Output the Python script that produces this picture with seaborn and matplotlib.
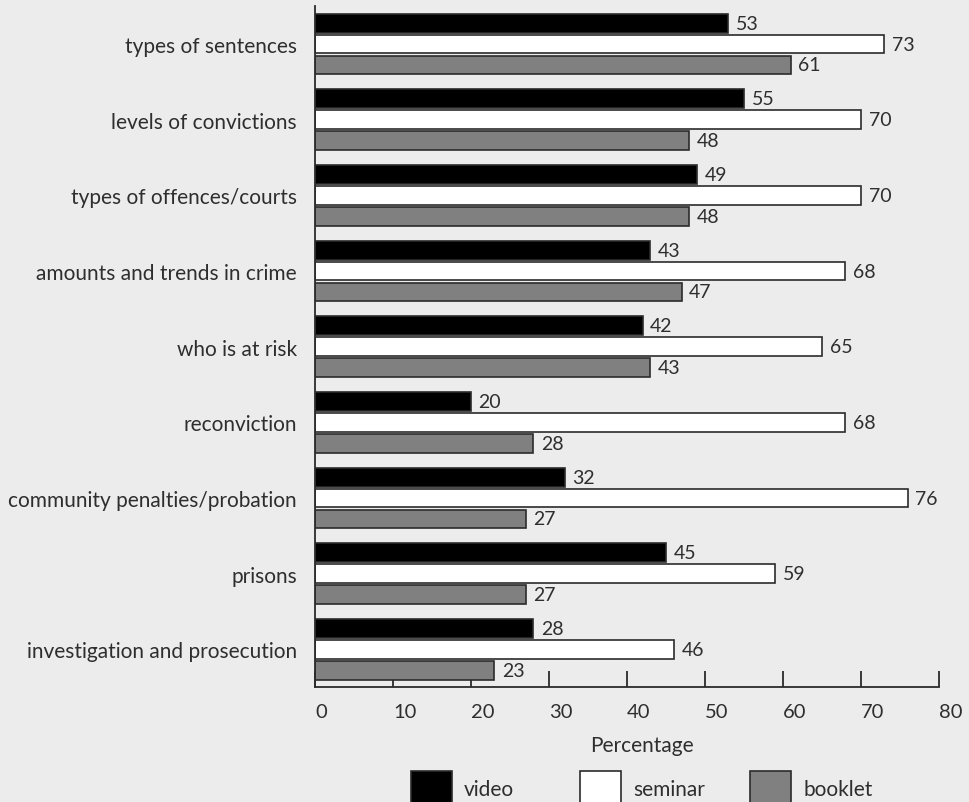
import matplotlib
matplotlib.use("Agg")
import matplotlib.pyplot as plt
import seaborn as sns
import pandas as pd

categories = [
    "types of sentences",
    "levels of convictions",
    "types of offences/courts",
    "amounts and trends in crime",
    "who is at risk",
    "reconviction",
    "community penalties/probation",
    "prisons",
    "investigation and prosecution",
]
video = [53, 55, 49, 43, 42, 20, 32, 45, 28]
seminar = [73, 70, 70, 68, 65, 68, 76, 59, 46]
booklet = [61, 48, 48, 47, 43, 28, 27, 27, 23]
series = ["video", "seminar", "booklet"]
xticks = [0, 10, 20, 30, 40, 50, 60, 70, 80]

bg = "#ebeceb"
edge = "#2b2b2b"
text_col = "#2e2e2e"

sns.set_theme(style="white")
plt.rcParams["font.family"] = ["Lato", "DejaVu Sans"]
plt.rcParams["font.weight"] = "normal"
plt.rcParams["text.color"] = text_col

rows = []
for name, vals in zip(series, [video, seminar, booklet]):
    for cat, v in zip(categories, vals):
        rows.append({"topic": cat, "method": name, "pct": v})
df = pd.DataFrame(rows)

fig = plt.figure(figsize=(9.69, 8.03), dpi=100, facecolor=bg)
ax = fig.add_axes([0.325, 0.143, 0.644, 0.848])
ax.set_facecolor(bg)

sns.barplot(
    data=df, y="topic", x="pct", hue="method",
    order=categories, hue_order=series,
    palette={"video": "#000000", "seminar": "#ffffff", "booklet": "#808080"},
    orient="h", width=0.83, gap=0.1,
    edgecolor=edge, linewidth=1.2, ax=ax,
)

for cont in ax.containers:
    ax.bar_label(cont, padding=5.5, fontsize=14, color=text_col)

ax.set_xlim(0, 80)
ax.set_ylim(8.5, -0.5)
ax.set_xticks(xticks)
ax.set_xticklabels([str(t) for t in xticks], fontsize=14.5, color=text_col,
                   ha="left")
ax.tick_params(axis="x", direction="in", length=11.5, width=1.3,
               color=edge, pad=11.5, bottom=True)
ax.tick_params(axis="y", length=0, pad=13, labelsize=15, labelcolor=text_col)
ax.set_ylabel("")
ax.set_xlabel("Percentage", fontsize=15, color=text_col, labelpad=11, x=0.524)

for side in ["top", "right"]:
    ax.spines[side].set_visible(False)
for side in ["left", "bottom"]:
    ax.spines[side].set_color(edge)
    ax.spines[side].set_linewidth(1.3)

# one legend entry per column, each anchored at its own left edge
handles, labels = ax.get_legend_handles_labels()
ax.get_legend().remove()
legend_x = [411, 580, 750]
for h, lab, x0 in zip(handles, labels, legend_x):
    fig.legend([h], [lab], loc="center left",
               bbox_to_anchor=(x0 / 969, 1 - 789 / 803),
               frameon=False, fontsize=15, handlelength=1.95,
               handleheight=2.2, handletextpad=0.6,
               borderpad=0, borderaxespad=0)

fig.savefig("out.png", dpi=100, facecolor=bg)
